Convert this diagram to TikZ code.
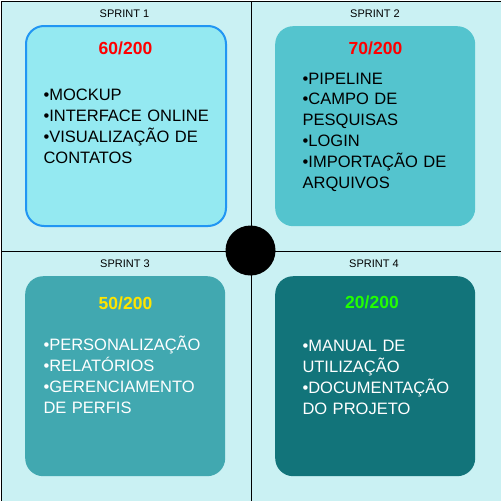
\documentclass[tikz,border=0pt]{standalone}
\usepackage{fontspec}
\setmainfont{Liberation Sans}
\definecolor{cBg}{HTML}{CAF1F3}
\definecolor{cOne}{HTML}{94E9F1}
\definecolor{cOneLine}{HTML}{2196F3}
\definecolor{cTwo}{HTML}{54C4CE}
\definecolor{cThree}{HTML}{41A8B0}
\definecolor{cFour}{HTML}{12747A}
\definecolor{cYellow}{HTML}{FFE500}
\definecolor{cGreen}{HTML}{22FF00}

\begin{document}
\begin{tikzpicture}[x=1pt, y=-1pt,
    quad/.style={draw=black, line width=1pt, fill=cBg, minimum width=250pt, minimum height=250pt, inner sep=0pt, anchor=north west},
    card/.style={rounded corners=18pt, minimum width=200pt, minimum height=200pt, inner sep=0pt, anchor=north west},
    sprintlbl/.style={anchor=base, font=\fontsize{11}{13}\selectfont},
    score/.style={anchor=base, font=\fontsize{17.5}{20}\selectfont\bfseries},
    items/.style={anchor=base west, align=left, text width=200pt, inner sep=0pt, font=\fontsize{16.5}{20.8}\selectfont}]
        \useasboundingbox (0,0) rectangle (501,501);
        % quadrants
        \node[quad] (q1) at (0.5,0.5)     {};
        \node[quad] (q2) at (250.5,0.5)   {};
        \node[quad] (q3) at (0.5,250.5)   {};
        \node[quad] (q4) at (250.5,250.5) {};
        % cards
        \node[card, fill=cOne, draw=cOneLine, line width=2pt] (c1) at (25,25) {};
        \node[card, fill=cTwo]   (c2) at (275,26)  {};
        \node[card, fill=cThree] (c3) at (25,276)  {};
        \node[card, fill=cFour]  (c4) at (275,276) {};
        \node[circle, fill=black, minimum size=50pt, inner sep=0pt] (hub) at (250.5,250.5) {};
        % headings
        \node[sprintlbl] (l1) at (124.5,17.3) {SPRINT 1};
        \node[sprintlbl] (l2) at (375,17.3)   {SPRINT 2};
        \node[sprintlbl] (l3) at (125,267.7)  {SPRINT 3};
        \node[sprintlbl] (l4) at (374,267.7)  {SPRINT 4};
        \node[score, red]     (p1) at (125.5,54)  {60/200};
        \node[score, red]     (p2) at (375.5,54)  {70/200};
        \node[score, cYellow] (p3) at (125.5,309.3) {50/200};
        \node[score, cGreen]  (p4) at (372,308.7)  {20/200};
        % tasks
        \node[items] (t1) at (43.3,100.7) {•MOCKUP\\•INTERFACE ONLINE\\•VISUALIZAÇÃO DE\\CONTATOS};
        \node[items] (t2) at (302.5,84) {•PIPELINE\\•CAMPO DE\\PESQUISAS\\•LOGIN\\•IMPORTAÇÃO DE\\ARQUIVOS};
        \node[items, white] (t3) at (43.3,350.7) {•PERSONALIZAÇÃO\\•RELATÓRIOS\\•GERENCIAMENTO\\DE PERFIS};
        \node[items, white] (t4) at (302.3,351.7) {•MANUAL DE\\UTILIZAÇÃO\\•DOCUMENTAÇÃO\\DO PROJETO};
      \end{tikzpicture}
\end{document}
